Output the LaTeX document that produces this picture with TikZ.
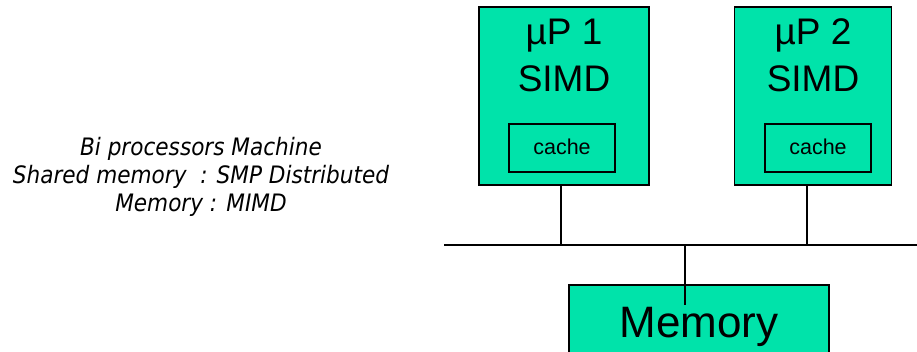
\documentclass[tikz,border=0pt]{standalone}
\usepackage{fontspec}
\setmainfont{Liberation Sans}
\newfontfamily\notefont[FakeStretch=0.9]{DejaVu Sans}
\definecolor{procgreen}{RGB}{0,227,170}
\begin{document}
\begin{tikzpicture}[x=1pt,y=-1pt,
  unit/.style={draw=black,line width=1.2pt,fill=procgreen,inner sep=0pt,outer sep=0pt},
  wire/.style={draw=black,line width=1.2pt},
  bigtxt/.style={font=\fontsize{37}{47}\selectfont,align=center,anchor=base,inner sep=0pt},
  cachetxt/.style={font=\fontsize{21.5}{26}\selectfont,anchor=base,inner sep=0pt},
  memtxt/.style={font=\fontsize{44}{50}\selectfont,anchor=base,inner sep=0pt},
  note/.style={font=\notefont\itshape\fontsize{24}{28}\selectfont,align=center,anchor=base,inner sep=0pt}]
  \useasboundingbox (0,0) rectangle (917,352);
  \clip (0,0) rectangle (917,352);

  % processor 1 (the base anchor of a two-line label sits on its last line)
  \node[unit,minimum width=170pt,minimum height=178pt] (p1) at (564,96) {};
  \node[unit,minimum width=106pt,minimum height=48pt] (c1) at (562,148) {};
  \node[bigtxt] (p1name) at (564,92) {µP 1\\SIMD};
  \node[cachetxt] (c1txt) at (562,155) {cache};

  % processor 2
  \node[unit,minimum width=157pt,minimum height=178pt] (p2) at (813,96) {};
  \node[unit,minimum width=106pt,minimum height=48pt] (c2) at (818,148) {};
  \node[bigtxt] (p2name) at (813,92) {µP 2\\SIMD};
  \node[cachetxt] (c2txt) at (818,155) {cache};

  % shared memory
  \node[unit,minimum width=260pt,minimum height=90pt] (mem) at (699,330) {};
  \node[memtxt] (memtxt) at (699,337) {Memory};

  % bus and taps
  \coordinate (busL) at (444,245);
  \coordinate (busR) at (917,245);
  \coordinate (tap1) at (561,245);
  \coordinate (tap2) at (807,245);
  \coordinate (tapm) at (685,245);
  \coordinate (memin) at (685,305);
  \draw[wire] (busL) -- (busR);
  \draw[wire] (tap1 |- p1.south) -- (tap1);
  \draw[wire] (tap2 |- p2.south) -- (tap2);
  \draw[wire] (tapm) -- (memin);

  % caption
  \node[note] (caption) at (201,212) {Bi processors Machine\\Shared memory\ \ : SMP Distributed\\Memory : MIMD};
\end{tikzpicture}
\end{document}
